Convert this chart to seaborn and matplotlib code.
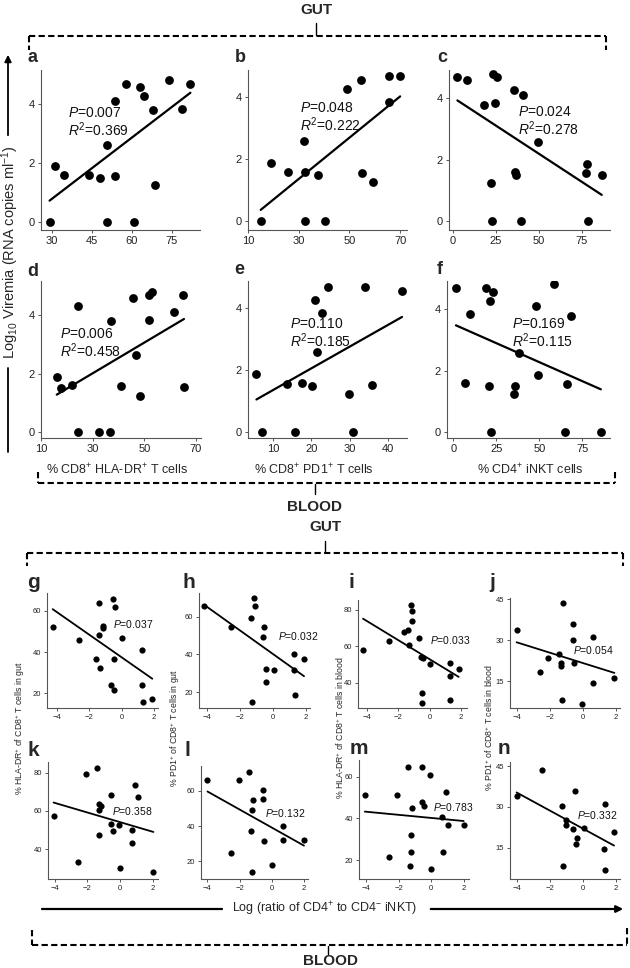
import matplotlib
matplotlib.use("Agg")
import matplotlib.pyplot as plt
import seaborn as sns

# --- Dati pannelli a-f: log10 viremia vs % cellule ---
a_x = [29.1, 31.0, 34.6, 44.0, 47.9, 50.6, 50.6, 53.6, 53.5, 57.6, 60.6, 62.9, 64.4, 67.8, 68.8, 73.8, 78.9, 81.9]
a_y = [0.0, 1.90, 1.61, 1.59, 1.50, 2.61, 0.0, 1.55, 4.12, 4.70, 0.0, 4.60, 4.30, 3.80, 1.25, 4.83, 3.85, 4.70]
b_x = [15.0, 19.0, 25.6, 32.0, 32.4, 32.4, 37.6, 40.5, 49.2, 54.6, 54.9, 59.3, 65.7, 65.7, 70.0]
b_y = [0.0, 1.86, 1.58, 2.59, 1.58, 0.0, 1.48, 0.0, 4.26, 4.56, 1.55, 1.26, 3.84, 4.68, 4.68]
c_x = [2.5, 8.2, 18.1, 23.0, 25.5, 24.3, 22.0, 22.4, 35.5, 41.0, 36.0, 36.6, 39.6, 49.3, 78.0, 77.4, 78.6, 86.7]
c_y = [4.70, 4.58, 3.77, 4.80, 4.70, 3.83, 1.23, 0.0, 4.27, 4.10, 1.59, 1.51, 0.0, 2.59, 1.87, 1.58, 0.0, 1.51]
d_x = [16.1, 17.7, 21.9, 24.4, 24.4, 32.6, 36.8, 37.1, 41.0, 45.8, 46.8, 48.3, 52.0, 53.1, 52.0, 61.4, 64.9, 65.4]
d_y = [1.87, 1.50, 1.60, 4.30, 0.0, 0.0, 0.0, 3.78, 1.57, 4.58, 2.62, 1.25, 4.69, 4.80, 3.83, 4.10, 4.69, 1.53]
e_x = [5.7, 7.1, 13.7, 15.7, 17.6, 20.3, 21.0, 21.4, 22.7, 24.5, 29.8, 31.0, 34.0, 35.8, 43.7]
e_y = [1.88, 0.0, 1.56, 0.0, 1.59, 1.47, 4.26, 2.59, 3.84, 4.68, 1.23, 0.0, 4.68, 1.51, 4.57]
f_x = [1.6, 9.6, 6.7, 19.0, 23.3, 21.3, 20.9, 21.9, 36.0, 35.4, 37.9, 48.2, 49.0, 58.4, 65.8, 64.8, 68.1, 85.7]
f_y = [4.69, 3.83, 1.59, 4.69, 4.57, 4.26, 1.48, 0.0, 1.51, 1.22, 2.58, 4.10, 1.87, 4.81, 1.55, 0.0, 3.78, 0.0]

top_p = ["0.007", "0.048", "0.024", "0.006", "0.110", "0.169"]
top_r2 = ["0.369", "0.222", "0.278", "0.458", "0.185", "0.115"]
top_xticks = [[30, 45, 60, 75], [10, 30, 50, 70], [0, 25, 50, 75],
              [10, 30, 50, 70], [10, 20, 30, 40], [0, 25, 50, 75]]
top_xlabels = ["% CD8$^{+}$ HLA-DR$^{+}$ T cells", "% CD8$^{+}$ PD1$^{+}$ T cells", "% CD4$^{+}$ iNKT cells"]

# --- Dati pannelli g-n: log(ratio CD4+/CD4- iNKT) vs % cellule ---
g_x = [-4.25, -2.62, -1.60, -1.37, -1.33, -1.16, -1.12, -1.37, -0.54, -0.40, -0.48, 0.01, -0.67, -0.44, 1.25, 1.28, 1.35, 1.90]
g_y = [52.1, 45.8, 36.9, 64.0, 32.5, 52.7, 51.9, 48.3, 65.7, 61.8, 36.7, 46.7, 24.1, 21.7, 41.1, 24.1, 15.7, 17.1]
h_x = [-4.15, -2.55, -1.30, -1.12, -1.08, -0.52, -0.62, -0.44, 0.07, -0.42, -1.26, 1.27, 1.27, 1.34, 1.88]
h_y = [65.7, 54.4, 59.5, 70.1, 65.7, 54.7, 49.1, 32.2, 31.6, 25.4, 14.7, 40.3, 32.0, 18.6, 37.5]
i_x = [-4.22, -2.58, -1.62, -1.34, -1.17, -1.13, -1.11, -1.32, -0.68, -0.55, -0.39, 0.0, -0.45, -0.49, 1.27, 1.27, 1.32, 1.85]
i_y = [57.9, 63.1, 67.7, 69.0, 82.6, 79.6, 74.1, 60.6, 64.8, 54.3, 53.6, 50.3, 34.2, 28.7, 50.7, 43.9, 30.5, 47.6]
j_x = [-4.04, -2.62, -2.12, -1.45, -1.34, -1.36, -1.20, -1.30, -0.63, -0.63, -0.53, -0.07, 0.62, 0.62, 1.90]
j_y = [33.9, 18.4, 23.3, 24.9, 21.7, 20.6, 43.5, 8.2, 35.9, 30.0, 21.8, 6.7, 31.0, 14.4, 16.3]
k_x = [-4.06, -2.55, -2.08, -1.41, -1.29, -1.17, -1.27, -1.31, -0.56, -0.56, -0.46, -0.06, 0.0, 0.69, 0.73, 0.91, 1.07, 2.02]
k_y = [57.3, 33.6, 79.1, 82.2, 63.8, 62.6, 60.4, 47.2, 68.5, 53.2, 49.7, 52.8, 30.0, 49.9, 43.4, 73.5, 67.4, 28.3]
l_x = [-4.0, -2.03, -1.39, -1.14, -1.24, -0.54, -0.54, -1.27, -2.53, -0.46, 0.02, -1.22, 0.68, 0.72, 2.0]
l_y = [66.2, 66.2, 70.8, 54.9, 49.3, 60.2, 55.3, 37.4, 25.0, 31.5, 18.0, 14.1, 40.3, 31.9, 31.9]
m_x = [-4.1, -2.11, -2.6, -1.45, -1.2, -1.28, -1.28, -1.33, -0.59, -0.57, -0.46, -0.07, -0.03, 0.69, 0.71, 0.9, 1.06, 2.0]
m_y = [51.3, 51.3, 21.6, 64.4, 45.0, 32.0, 24.0, 17.1, 64.7, 47.7, 46.1, 60.8, 15.8, 40.8, 24.0, 52.4, 36.6, 36.6]
n_x = [-4.04, -2.48, -1.26, -1.06, -1.06, -0.6, -0.47, -0.35, -0.43, 0.07, -1.24, 1.31, 1.29, 1.35, 1.88]
n_y = [34.1, 43.6, 30.2, 25.1, 23.3, 21.7, 35.9, 18.7, 16.5, 22.1, 8.4, 31.1, 14.7, 6.8, 20.9]

bot_p = ["0.037", "0.032", "0.033", "0.054", "0.358", "0.132", "0.783", "0.332"]
bot_yticks = [[20, 40, 60], [20, 40, 60], [40, 60, 80], [15, 30, 45],
              [40, 60, 80], [20, 40, 60], [20, 40, 60], [15, 30, 45]]
bot_xticks = [-4, -2, 0, 2]
bot_ylabels = ["% HLA-DR$^{+}$ of CD8$^{+}$ T cells in gut", "% PD1$^{+}$ of CD8$^{+}$ T cells in gut",
               "% HLA-DR$^{+}$ of CD8$^{+}$ T cells in blood", "% PD1$^{+}$ of CD8$^{+}$ T cells in blood"]

# --- Stile ---
sns.set_style("ticks")
plt.rcParams['font.family'] = ['Liberation Sans', 'DejaVu Sans']
plt.rcParams['mathtext.fontset'] = 'custom'
plt.rcParams['mathtext.rm'] = 'Liberation Sans'
plt.rcParams['mathtext.it'] = 'Liberation Sans:italic'
plt.rcParams['mathtext.bf'] = 'Liberation Sans:bold'

W, H = 630, 968
fig = plt.figure(figsize=(W / 100, H / 100), dpi=100)


def box(x0, y0, x1, y1):
    return [x0 / W, 1 - y1 / H, (x1 - x0) / W, (y1 - y0) / H]


def style_ax(ax, size, ticklen):
    for s in ["top", "right"]:
        ax.spines[s].set_visible(False)
    for s in ["left", "bottom"]:
        ax.spines[s].set_color("#555555")
        ax.spines[s].set_linewidth(0.8)
    ax.tick_params(labelsize=size, length=ticklen, width=0.7, color="#555555", labelcolor="#222222", pad=2)
    ax.set_xlabel("")
    ax.set_ylabel("")


# pannelli superiori
top_data = [(a_x, a_y), (b_x, b_y), (c_x, c_y), (d_x, d_y), (e_x, e_y), (f_x, f_y)]
top_boxes = [(41, 70, 200, 230), (248, 70, 407, 230), (449, 70, 610, 230),
             (41, 281, 201, 438), (248, 281, 407, 438), (447, 281, 610, 438)]
top_xlim = [(25.9, 85.5), (10, 72.7), (-2.4, 91.5), (10, 72), (3.5, 45), (-3.6, 91)]
top_ylim = [(-0.28, 5.17), (-0.3, 4.88), (-0.29, 4.92), (-0.2, 5.16), (-0.2, 4.88), (-0.2, 4.92)]

for k in range(6):
    ax = fig.add_axes(box(*top_boxes[k]))
    x, y = top_data[k]
    sns.regplot(x=x, y=y, ax=ax, ci=None, color="black",
                scatter_kws=dict(s=40, linewidths=0, alpha=1),
                line_kws=dict(lw=1.6))
    ax.set_xlim(*top_xlim[k])
    ax.set_ylim(*top_ylim[k])
    ax.set_xticks(top_xticks[k])
    ax.set_yticks([0, 2, 4])
    style_ax(ax, 8, 2.5)

# pannelli inferiori
bot_data = [(g_x, g_y), (h_x, h_y), (i_x, i_y), (j_x, j_y),
            (k_x, k_y), (l_x, l_y), (m_x, m_y), (n_x, n_y)]
bot_boxes = [(47, 593, 158, 708), (199, 593, 310, 708), (358, 600, 467, 708), (510, 598, 620, 708),
             (48, 762, 158, 879), (201, 766, 308, 879), (359, 760, 469, 879), (510, 762, 620, 879)]
bot_xlim = [(-4.6, 2.25), (-4.47, 2.24), (-4.54, 2.38), (-4.44, 2.24),
            (-4.4, 2.3), (-4.4, 2.25), (-4.46, 2.33), (-4.44, 2.24)]
bot_ylim = [(12.9, 68.7), (11.7, 72.5), (26.1, 85.5), (5.1, 45.5),
            (24.5, 85.5), (10, 74), (11, 67.9), (3.5, 46.5)]

for k in range(8):
    ax = fig.add_axes(box(*bot_boxes[k]))
    x, y = bot_data[k]
    sns.regplot(x=x, y=y, ax=ax, ci=None, color="black",
                scatter_kws=dict(s=20, linewidths=0, alpha=1),
                line_kws=dict(lw=1.3))
    ax.set_xlim(*bot_xlim[k])
    ax.set_ylim(*bot_ylim[k])
    ax.set_xticks(bot_xticks)
    ax.set_yticks(bot_yticks[k])
    style_ax(ax, 5.5, 2)

# --- Livello di annotazione in coordinate pixel ---
ov = fig.add_axes([0, 0, 1, 1])
ov.set_xlim(0, W)
ov.set_ylim(H, 0)
ov.axis("off")

letters_top = ["a", "b", "c", "d", "e", "f"]
letter_top_pos = [(33, 57), (240, 57), (442, 57), (33, 271), (239, 269), (440, 270)]
for t, (px, py) in zip(letters_top, letter_top_pos):
    ov.text(px, py, t, fontsize=13, fontweight="bold", ha="center", va="center")

ptxt_top = [(68, 113), (300, 108), (518, 112), (60, 334), (290, 324), (512, 324)]
for k, (px, py) in enumerate(ptxt_top):
    ov.text(px, py, "$P$=" + top_p[k], fontsize=10, ha="left", va="center", color="#111111")
    ov.text(px, py + 17, "$R^2$=" + top_r2[k], fontsize=10, ha="left", va="center", color="#111111")

for t, cx in zip(top_xlabels, [117, 314, 530]):
    ov.text(cx, 470, t, fontsize=9, ha="center", va="center")

letters_bot = ["g", "h", "i", "j", "k", "l", "m", "n"]
letter_bot_pos = [(33, 582), (189, 582), (351, 582), (492, 583),
                  (33, 750), (187, 750), (359, 748), (504, 748)]
for t, (px, py) in zip(letters_bot, letter_bot_pos):
    ov.text(px, py, t, fontsize=15, fontweight="bold", ha="center", va="center")

ptxt_bot = [(113, 624), (278, 636), (430, 640), (573, 650),
            (112, 811), (265, 813), (433, 807), (577, 815)]
for k, (px, py) in enumerate(ptxt_bot):
    ov.text(px, py, "$P$=" + bot_p[k], fontsize=7.5, ha="left", va="center", color="#111111")

for t, cx in zip(bot_ylabels, [20, 175, 340, 489]):
    ov.text(cx, 728, t, fontsize=6.3, rotation=90, ha="center", va="center")

# asse y comune (viremia)
ov.annotate("", xy=(8, 52), xytext=(8, 138),
            arrowprops=dict(arrowstyle="-|>", color="black", lw=1.3, mutation_scale=10))
ov.plot([8, 8], [368, 452], color="black", lw=1.3)
ov.text(10, 252, "Log$_{10}$ Viremia (RNA copies ml$^{-1}$)", fontsize=10.5,
        rotation=90, ha="center", va="center")

# asse x comune (pannelli g-n)
ov.plot([42, 222], [909, 909], color="black", lw=1.6)
ov.annotate("", xy=(626, 909), xytext=(428, 909),
            arrowprops=dict(arrowstyle="-|>", color="black", lw=1.6, mutation_scale=10))
ov.text(325, 909, "Log (ratio of CD4$^{+}$ to CD4$^{-}$ iNKT)", fontsize=9, ha="center", va="center")

# parentesi tratteggiate
dash = dict(color="black", lw=1.5, linestyle=(0, (3, 1.6)))
# GUT sopra
ov.plot([29, 606], [36, 36], **dash)
ov.plot([29, 29], [36, 50], **dash)
ov.plot([606, 606], [36, 50], **dash)
ov.plot([316, 316], [23, 35], color="black", lw=1.0)
ov.text(316, 10, "GUT", fontsize=11, fontweight="bold", ha="center", va="center")
# BLOOD sotto pannelli d-f
ov.plot([38, 615], [483, 483], **dash)
ov.plot([38, 38], [472, 483], **dash)
ov.plot([615, 615], [472, 483], **dash)
ov.plot([315, 315], [484, 494], color="black", lw=1.0)
ov.text(315, 507, "BLOOD", fontsize=11, fontweight="bold", ha="center", va="center")
# GUT sopra pannelli g-j
ov.text(325, 527, "GUT", fontsize=11, fontweight="bold", ha="center", va="center")
ov.plot([27, 623], [553, 553], **dash)
ov.plot([27, 27], [553, 566], **dash)
ov.plot([623, 623], [553, 566], **dash)
ov.plot([325, 325], [541, 552], color="black", lw=1.0)
# BLOOD in fondo
ov.plot([32, 627], [945, 945], **dash)
ov.plot([32, 32], [930, 945], **dash)
ov.plot([627, 627], [928, 945], **dash)
ov.plot([328, 328], [946, 954], color="black", lw=1.0)
ov.text(330, 961, "BLOOD", fontsize=11, fontweight="bold", ha="center", va="center")

plt.savefig("out.png", dpi=100)
